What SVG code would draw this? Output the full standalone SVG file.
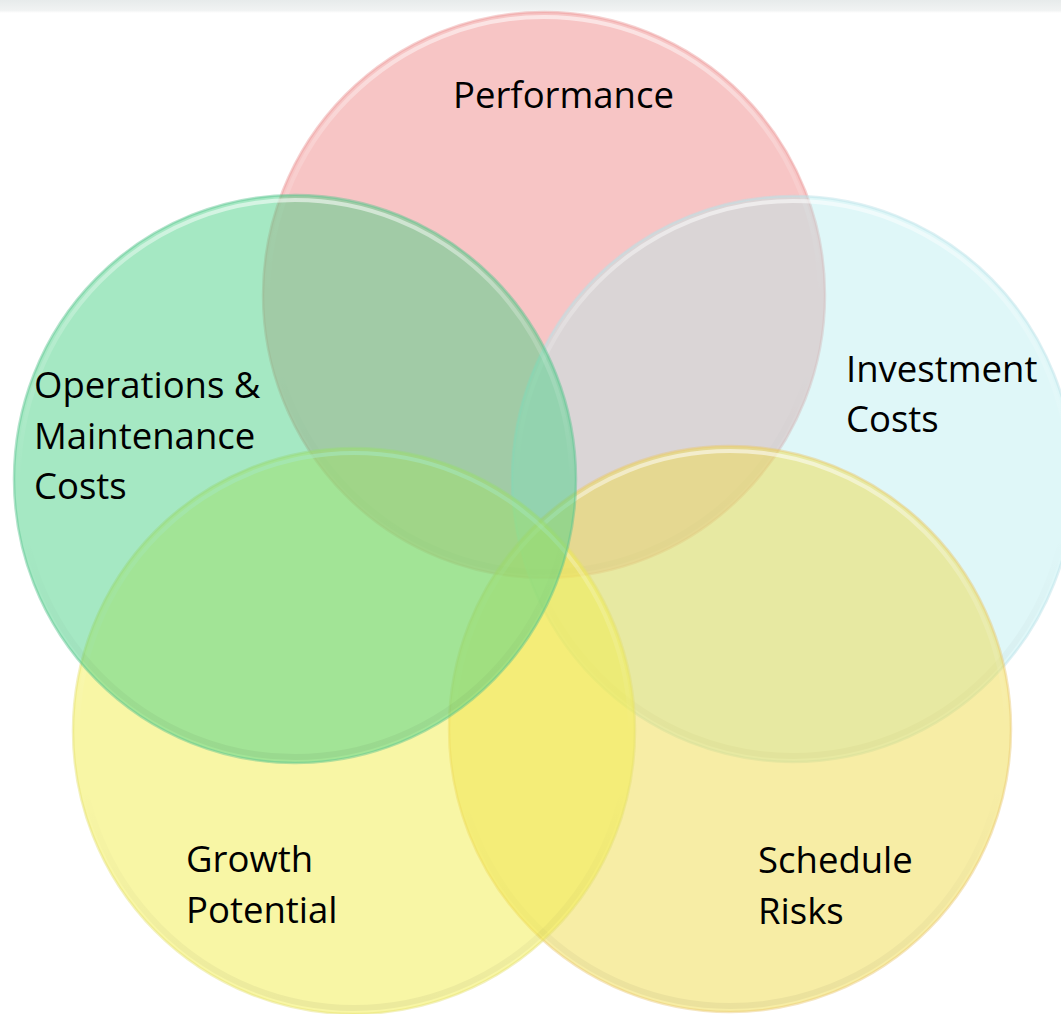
<svg xmlns="http://www.w3.org/2000/svg" width="1061" height="1014" viewBox="0 0 1061 1014">
  <defs>
    <linearGradient id="topband" x1="0" y1="0" x2="0" y2="1">
      <stop offset="0" stop-color="#e7ebeb"/>
      <stop offset="0.8" stop-color="#f1f3f3"/>
      <stop offset="1" stop-color="#ffffff"/>
    </linearGradient>
    <linearGradient id="hl" x1="0" y1="0" x2="0" y2="1">
      <stop offset="0" stop-color="#ffffff" stop-opacity="0.55"/>
      <stop offset="0.25" stop-color="#ffffff" stop-opacity="0.18"/>
      <stop offset="0.5" stop-color="#ffffff" stop-opacity="0"/>
      <stop offset="1" stop-color="#ffffff" stop-opacity="0"/>
    </linearGradient>
    <linearGradient id="sh" x1="0" y1="0" x2="0" y2="1">
      <stop offset="0" stop-color="#000000" stop-opacity="0"/>
      <stop offset="0.6" stop-color="#000000" stop-opacity="0"/>
      <stop offset="1" stop-color="#000000" stop-opacity="0.05"/>
    </linearGradient>
  </defs>
  <style>
    .c { fill-opacity: 0.5; stroke-opacity: 0.45; stroke-width: 2.5; }
    .hl { fill: none; stroke: url(#hl); stroke-width: 4; }
    .sh { fill: none; stroke: url(#sh); stroke-width: 6; }
    .lbl { font-family: "Open Sans", "Noto Sans", "DejaVu Sans", sans-serif; font-size: 36.5px; fill: #000000; }
    .perf { fill: #ef8b8b; stroke: #ec9a9a; }
    .inv { fill: #b3ecee; fill-opacity: 0.42; stroke: #b9dfe6; }
    .sched { fill: #efdb4b; stroke: #e8c870; }
    .grow { fill: #f1ed4b; stroke: #e4e070; }
    .ops { fill: #4bd187; stroke: #5cc490; }
  </style>
  <rect x="0" y="0" width="1061" height="1014" fill="#ffffff"/>
  <rect x="0" y="0" width="1061" height="13" fill="url(#topband)"/>

  <g id="performance">
    <ellipse class="c perf" cx="544" cy="295" rx="281" ry="283"/>
    <ellipse class="hl" cx="544" cy="295" rx="276" ry="278"/>
    <ellipse class="sh" cx="544" cy="295" rx="275" ry="277"/>
    <text class="lbl" x="453" y="108">Performance</text>
  </g>

  <g id="investment-costs">
    <ellipse class="c inv" cx="793" cy="479" rx="281" ry="283"/>
    <ellipse class="hl" cx="793" cy="479" rx="276" ry="278"/>
    <ellipse class="sh" cx="793" cy="479" rx="275" ry="277"/>
    <text class="lbl" x="846" y="382">Investment</text>
    <text class="lbl" x="846" y="432">Costs</text>
  </g>

  <g id="schedule-risks">
    <ellipse class="c sched" cx="730" cy="729" rx="281" ry="283"/>
    <ellipse class="hl" cx="730" cy="729" rx="276" ry="278"/>
    <ellipse class="sh" cx="730" cy="729" rx="275" ry="277"/>
    <text class="lbl" x="758" y="873">Schedule</text>
    <text class="lbl" x="758" y="924">Risks</text>
  </g>

  <g id="growth-potential">
    <ellipse class="c grow" cx="354" cy="731" rx="281" ry="283"/>
    <ellipse class="hl" cx="354" cy="731" rx="276" ry="278"/>
    <ellipse class="sh" cx="354" cy="731" rx="275" ry="277"/>
    <text class="lbl" x="186" y="872">Growth</text>
    <text class="lbl" x="186" y="923">Potential</text>
  </g>

  <g id="operations-maintenance-costs">
    <ellipse class="c ops" cx="295" cy="479" rx="281" ry="284"/>
    <ellipse class="hl" cx="295" cy="479" rx="276" ry="279"/>
    <ellipse class="sh" cx="295" cy="479" rx="275" ry="278"/>
    <text class="lbl" x="34" y="398">Operations &amp;</text>
    <text class="lbl" x="34" y="449">Maintenance</text>
    <text class="lbl" x="34" y="499">Costs</text>
  </g>

  <g id="connectors"/>
</svg>
